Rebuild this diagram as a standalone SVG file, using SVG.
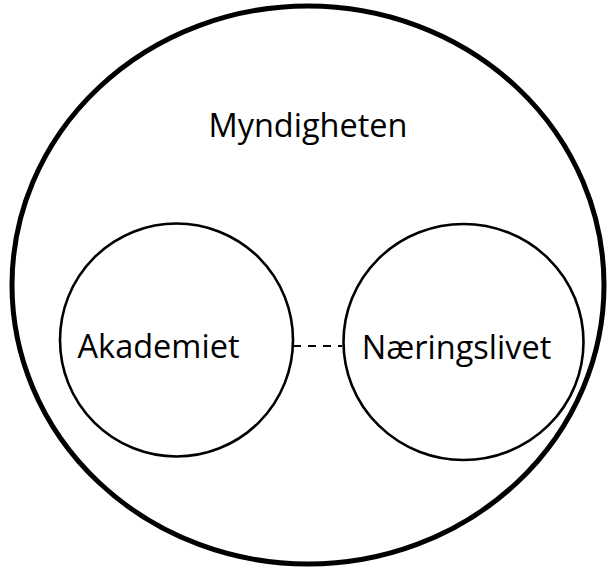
<svg xmlns="http://www.w3.org/2000/svg" width="610" height="570" viewBox="0 0 610 570">
<style>
.lbl{font-family:"Open Sans","Noto Sans","Liberation Sans",sans-serif;font-size:32.5px;fill:#000;text-anchor:middle}
.outer{fill:none;stroke:#000;stroke-width:5}
.inner{fill:none;stroke:#000;stroke-width:2.6}
.conn{stroke:#000;stroke-width:1.8;stroke-dasharray:8 7;fill:none}
</style>
<rect width="610" height="570" fill="#fff"/>
<g id="myndigheten">
<ellipse class="outer" cx="308" cy="285" rx="296" ry="279"/>
<text class="lbl" x="308" y="137">Myndigheten</text>
</g>
<g id="akademiet">
<circle class="inner" cx="176.5" cy="340" r="116.5"/>
<text class="lbl" x="158.5" y="358">Akademiet</text>
</g>
<g id="naeringslivet">
<ellipse class="inner" cx="463.5" cy="342" rx="120" ry="118"/>
<text class="lbl" x="456.5" y="359">Næringslivet</text>
</g>
<g id="connectors">
<path class="conn" d="M293 346H342"/>
</g>
</svg>
